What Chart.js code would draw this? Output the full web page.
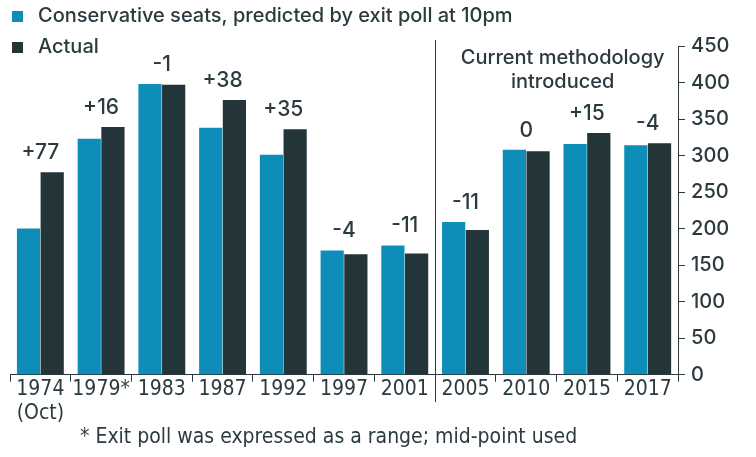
<!DOCTYPE html>
<html>
<head>
<meta charset="utf-8">
<script src="https://cdn.jsdelivr.net/npm/chart.js@4"></script>
<style>
  html, body { margin: 0; padding: 0; background: #fff; }
  #wrap { width: 756px; height: 457px; position: relative; }
</style>
</head>
<body>
<div id="wrap"><canvas id="seats"></canvas></div>
<script>
// chart data
var years = [['1974', '(Oct)'], '1979*', '1983', '1987', '1992', '1997', '2001', '2005', '2010', '2015', '2017'];
var predicted = [200, 323, 398, 338, 301, 170, 177, 209, 308, 316, 314];
var actual = [277, 339, 397, 376, 336, 165, 166, 198, 306, 331, 317];
var diffLabels = ['+77', '+16', '-1', '+38', '+35', '-4', '-11', '-11', '0', '+15', '-4'];
var yTicks = [0, 50, 100, 150, 200, 250, 300, 350, 400, 450];

var BLUE = '#0f8db9';
var DARK = '#233539';
var TEXT = '#2b3a3f';
var FONT = 'Inter, "Open Sans", sans-serif';
var CONDENSED = '"DejaVu Sans Condensed", "Liberation Sans Narrow", Roboto, sans-serif';

// legend, notes, divider and the difference labels
var extras = {
  id: 'extras',
  afterDraw: function (chart) {
    var ctx = chart.ctx;
    var x = chart.scales.x, y = chart.scales.y;
    ctx.save();

    // legend
    ctx.font = '500 20px ' + FONT;
    ctx.textBaseline = 'middle';
    ctx.textAlign = 'left';
    ctx.fillStyle = BLUE;
    ctx.fillRect(12, 11, 11, 11);
    ctx.fillStyle = DARK;
    ctx.fillRect(12, 42, 11, 11);
    ctx.fillStyle = TEXT;
    ctx.fillText('Conservative seats, predicted by exit poll at 10pm', 38, 16);
    ctx.fillText('Actual', 38, 47);

    // labels over each pair
    ctx.font = '500 21px ' + FONT;
    ctx.textAlign = 'center';
    ctx.textBaseline = 'bottom';
    for (var i = 0; i < years.length; i++) {
      var top = Math.max(predicted[i], actual[i]);
      ctx.fillText(diffLabels[i], x.getPixelForValue(i), y.getPixelForValue(top) - 9);
    }

    // divider between 2001 and 2005
    var dx = (x.getPixelForValue(6) + x.getPixelForValue(7)) / 2;
    ctx.strokeStyle = TEXT;
    ctx.lineWidth = 1;
    ctx.beginPath();
    ctx.moveTo(Math.round(dx) + 0.5, 40);
    ctx.lineTo(Math.round(dx) + 0.5, 402);
    ctx.stroke();

    ctx.font = '500 20px ' + FONT;
    ctx.textBaseline = 'middle';
    var cx = x.getPixelForValue(8.6);
    ctx.fillText('Current methodology', cx, 58);
    ctx.fillText('introduced', cx, 82);

    // footnote
    ctx.textAlign = 'left';
    ctx.font = '21px ' + CONDENSED;
    ctx.fillText('* Exit poll was expressed as a range; mid-point used', 80, 438);
    ctx.restore();
  }
};

new Chart(document.getElementById('seats'), {
  type: 'bar',
  data: {
    labels: years,
    datasets: [
      { label: 'Predicted', data: predicted, backgroundColor: BLUE, categoryPercentage: 0.78, barPercentage: 0.98 },
      { label: 'Actual', data: actual, backgroundColor: DARK, categoryPercentage: 0.78, barPercentage: 0.98 }
    ]
  },
  options: {
    responsive: true,
    maintainAspectRatio: false,
    animation: false,
    layout: { padding: { top: 46, left: 10, right: 20, bottom: 35 } },
    plugins: { legend: { display: false }, tooltip: { enabled: false } },
    scales: {
      x: {
        grid: { display: true, drawOnChartArea: false, color: TEXT, tickLength: 7, offset: true },
        border: { color: TEXT },
        ticks: { color: TEXT, font: { family: CONDENSED, size: 21, lineHeight: 1.15 }, maxRotation: 0, autoSkip: false, padding: -4 }
      },
      y: {
        position: 'right',
        min: 0,
        max: 450,
        afterBuildTicks: function (axis) {
          axis.ticks = yTicks.map(function (v) { return { value: v }; });
        },
        grid: { drawOnChartArea: false, color: TEXT, tickLength: 7 },
        border: { color: TEXT },
        ticks: { color: TEXT, font: { family: FONT, size: 20, weight: '500' }, padding: 6 }
      }
    }
  },
  plugins: [extras]
});
</script>
</body>
</html>
